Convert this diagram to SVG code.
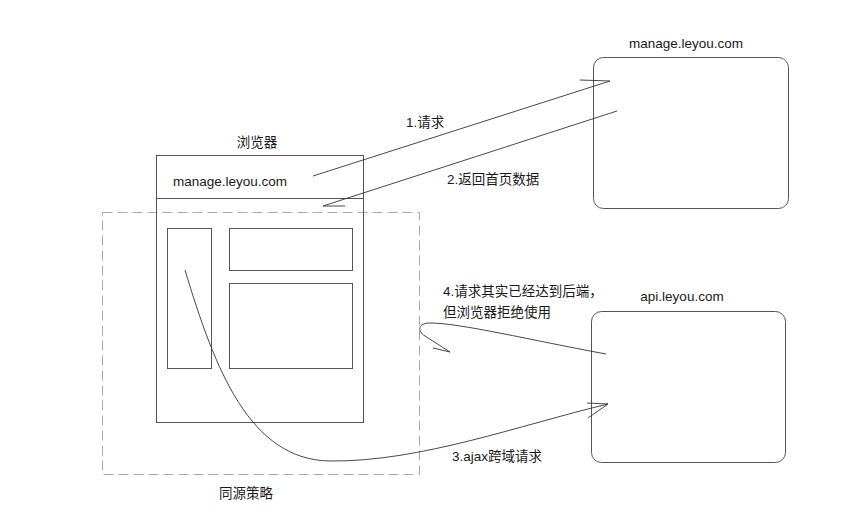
<svg xmlns="http://www.w3.org/2000/svg" width="868" height="525" viewBox="0 0 868 525">
<style>
.box{fill:none;stroke:#555;stroke-width:1}
.dash{fill:none;stroke:#aaa;stroke-width:1;stroke-dasharray:10 5}
.ln{fill:none;stroke:#333;stroke-width:0.9}
text{font-family:"Liberation Sans","Noto Sans CJK SC",sans-serif;font-size:13.5px;fill:#1a1a1a}
.c{text-anchor:middle}
</style>
<rect width="868" height="525" fill="#fff"/>
<g id="same-origin">
<rect class="dash" x="102.5" y="212.5" width="317" height="262"/>
<text class="c" x="246" y="498">同源策略</text>
</g>
<g id="browser">
<rect class="box" x="156.5" y="155.5" width="207" height="267"/>
<line class="box" x1="156.5" y1="198.5" x2="363.5" y2="198.5"/>
<rect class="box" x="167.5" y="228.5" width="44" height="140"/>
<rect class="box" x="229.5" y="228.5" width="123" height="42"/>
<rect class="box" x="229.5" y="283.5" width="123" height="85"/>
<text class="c" x="257" y="147">浏览器</text>
<text x="173" y="186">manage.leyou.com</text>
</g>
<g id="manage-server">
<rect class="box" x="593.5" y="57.5" width="195" height="151" rx="10"/>
<text class="c" x="686" y="48">manage.leyou.com</text>
</g>
<g id="api-server">
<rect class="box" x="591.5" y="311.5" width="194" height="151" rx="10"/>
<text class="c" x="682" y="301">api.leyou.com</text>
</g>
<g id="connectors">
<path class="ln" d="M313,176 L610,81 M580,80 L610,81"/>
<text x="406" y="127">1.请求</text>
<path class="ln" d="M617,111 L323,206 M345,206 L323,206"/>
<text x="447" y="184">2.返回首页数据</text>
<path class="ln" d="M606,354 C530,340 460,323 430,323 C418,323 417,331 425,336 L450,352 M433,348 L450,352"/>
<text x="443" y="296">4.请求其实已经达到后端，</text>
<text x="443" y="317">但浏览器拒绝使用</text>
<path class="ln" d="M185,270 C215,370 250,460 330,461 C420,462 520,425 608,404 M587,403 L608,404 L588,418"/>
<text x="452" y="461">3.ajax跨域请求</text>
</g>
</svg>
